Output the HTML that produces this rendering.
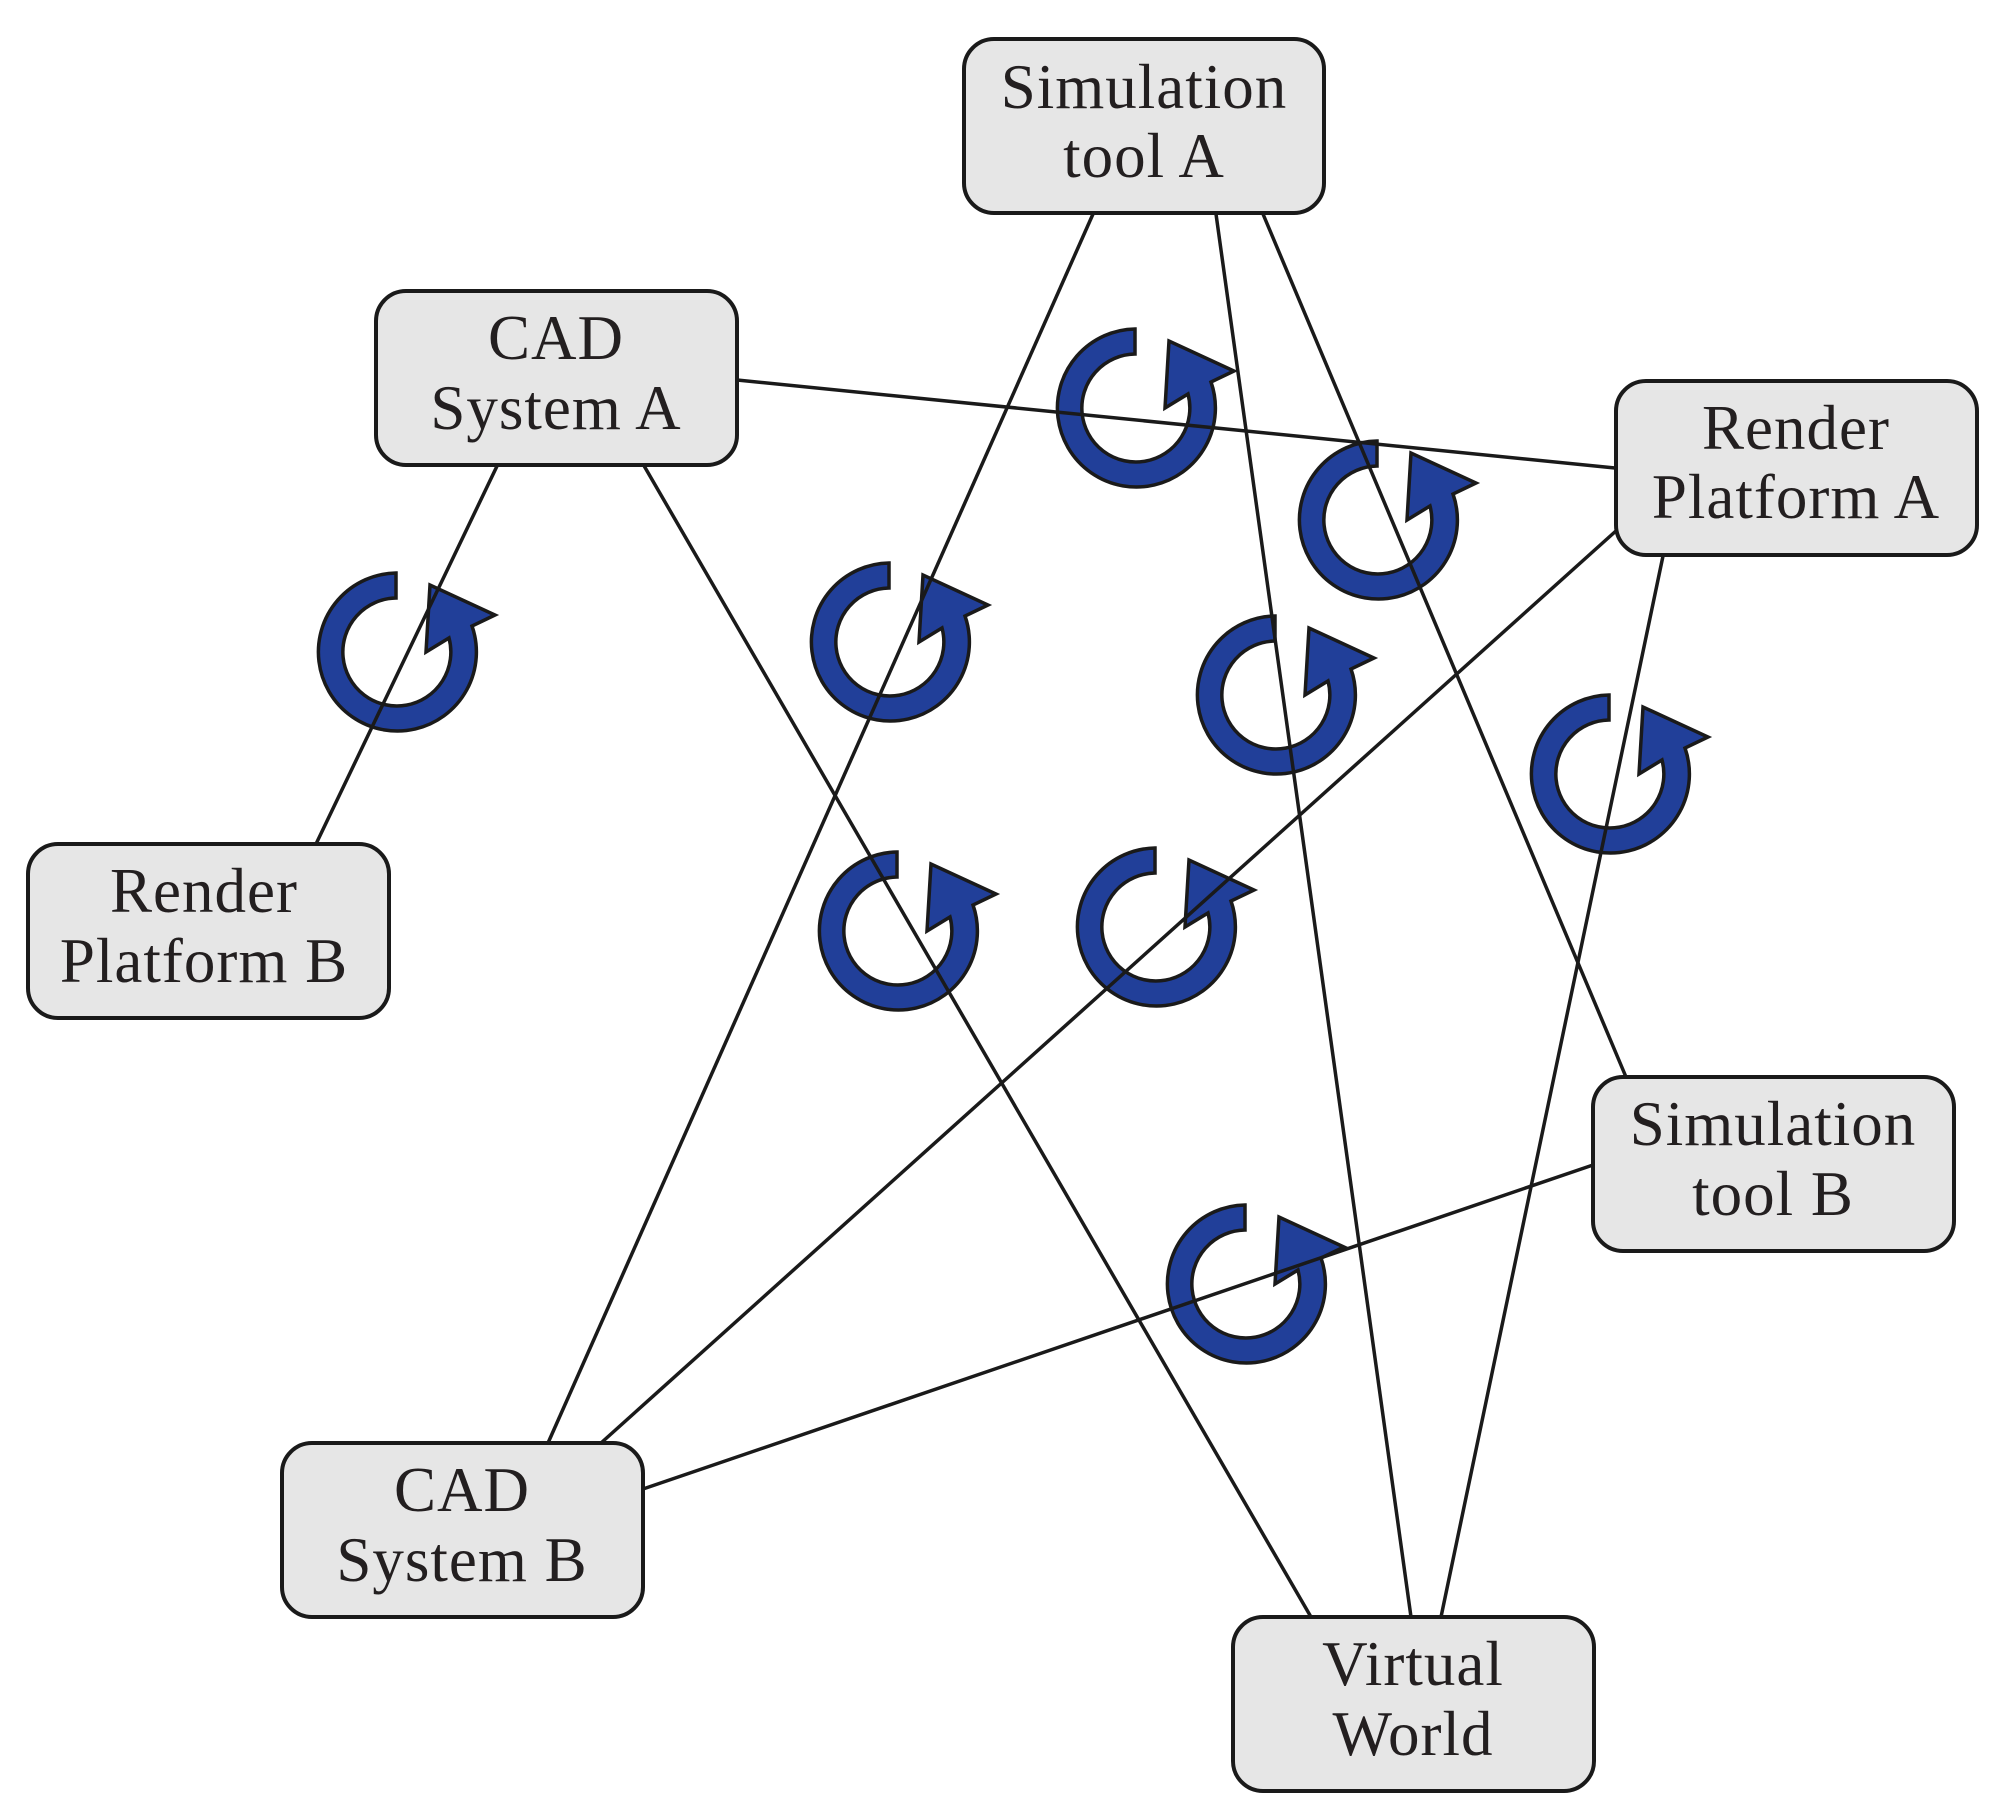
<!DOCTYPE html>
<html><head><meta charset="utf-8"><style>
html,body{margin:0;padding:0;background:#fff;}
svg{display:block;}
text{font-family:"Liberation Serif",serif;font-size:63px;letter-spacing:1px;fill:#231f20;text-anchor:middle;}
</style></head><body>
<svg width="2007" height="1815" viewBox="0 0 2007 1815" xmlns="http://www.w3.org/2000/svg">
<defs>
<path id="ic" d="M2,-79 A79,79 0 1 0 78,-26 L101,-37 L36,-67 L32,0 L55,-14 A54,54 0 1 1 2,-54 Z" fill="#213f99" stroke="#1a1a1a" stroke-width="3.5" stroke-linejoin="miter"/>
</defs>
<g>
<use href="#ic" x="394" y="652"/>
<use href="#ic" x="1133" y="408"/>
<use href="#ic" x="1375" y="520"/>
<use href="#ic" x="887" y="642"/>
<use href="#ic" x="1273" y="695"/>
<use href="#ic" x="1607" y="774"/>
<use href="#ic" x="895" y="931"/>
<use href="#ic" x="1153" y="927"/>
<use href="#ic" x="1243" y="1284"/>
</g>
<g stroke="#1a1a1a" stroke-width="3.5" fill="none">
<line x1="1093" y1="214" x2="548" y2="1443"/>
<line x1="1216" y1="214" x2="1411" y2="1617"/>
<line x1="1263" y1="214" x2="1626" y2="1077"/>
<line x1="737" y1="380" x2="1615" y2="468"/>
<line x1="498" y1="464" x2="316" y2="844"/>
<line x1="643" y1="464" x2="1311" y2="1617"/>
<line x1="1617" y1="530" x2="601" y2="1443"/>
<line x1="1663" y1="556" x2="1441" y2="1617"/>
<line x1="1593" y1="1165" x2="643" y2="1489"/>
</g>
<g fill="#e6e6e6" stroke="#1a1a1a" stroke-width="4">
<rect x="964" y="39" width="360" height="174" rx="30"/>
<rect x="376" y="291" width="361" height="174" rx="30"/>
<rect x="1616" y="381" width="361" height="174" rx="30"/>
<rect x="28" y="844" width="361" height="174" rx="30"/>
<rect x="1593" y="1077" width="361" height="174" rx="30"/>
<rect x="282" y="1443" width="361" height="174" rx="30"/>
<rect x="1233" y="1617" width="361" height="174" rx="30"/>
</g>
<text x="1144" y="108">Simulation</text><text x="1144" y="177">tool A</text>
<text x="556" y="359">CAD</text><text x="556" y="429">System A</text>
<text x="1796" y="449">Render</text><text x="1796" y="518">Platform A</text>
<text x="204" y="912">Render</text><text x="204" y="982">Platform B</text>
<text x="1773" y="1145">Simulation</text><text x="1773" y="1215">tool B</text>
<text x="462" y="1511">CAD</text><text x="462" y="1581">System B</text>
<text x="1413" y="1685">Virtual</text><text x="1413" y="1755">World</text>
</svg>
</body></html>
